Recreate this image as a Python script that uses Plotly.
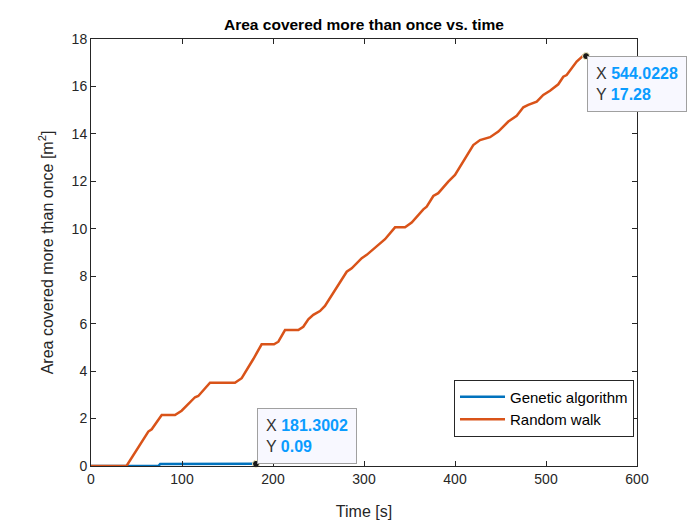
import plotly.graph_objects as go

# ---- data ----
ga_t = [0, 74, 76, 120, 181.3002]
ga_y = [0, 0, 0.08, 0.09, 0.09]

rw_t = [0, 39, 63, 66.7, 77.7, 92.3, 99.6, 107, 114.3, 117.9, 130.8, 158.2, 165.6,
        178.4, 187.5, 201.1, 205.9, 213.2, 227.8, 233.3, 238.8, 244.3, 251.6, 257.1,
        281, 286.5, 297.5, 303, 317.6, 323.1, 334.1, 345.1, 352.4, 365.2, 368.9,
        376.2, 381.6, 392.6, 400, 420.1, 427.5, 433, 438.5, 447.6, 458.6, 467.8,
        475.1, 480.5, 489.8, 497, 504.4, 513.5, 519, 522.7, 533.7, 541, 544.0228]
rw_y = [0, 0, 1.45, 1.55, 2.15, 2.15, 2.33, 2.6, 2.9, 2.95, 3.51, 3.51, 3.7,
        4.51, 5.13, 5.13, 5.24, 5.73, 5.73, 5.87, 6.18, 6.37, 6.53, 6.75,
        8.19, 8.33, 8.76, 8.9, 9.41, 9.56, 10.06, 10.06, 10.26, 10.82, 10.93,
        11.38, 11.5, 11.99, 12.27, 13.53, 13.74, 13.81, 13.86, 14.1, 14.52, 14.76,
        15.12, 15.22, 15.36, 15.64, 15.82, 16.09, 16.41, 16.48, 17.05, 17.3, 17.28]

x_ticks = [0, 100, 200, 300, 400, 500, 600]
y_ticks = [0, 2, 4, 6, 8, 10, 12, 14, 16, 18]

tips = [("181.3002", "0.09", ga_t[-1], ga_y[-1], "bottom"),
        ("544.0228", "17.28", rw_t[-1], rw_y[-1], "top")]

BLUE = "#0072BD"
ORANGE = "#D95319"
FONT = "Liberation Sans, Arial, Helvetica, sans-serif"
TXT = "#262626"

fig = go.Figure()
fig.add_trace(go.Scatter(x=ga_t, y=ga_y, mode="lines", name="Genetic algorithm",
                         line=dict(color=BLUE, width=2.5)))
fig.add_trace(go.Scatter(x=rw_t, y=rw_y, mode="lines", name="Random walk",
                         line=dict(color=ORANGE, width=2.5)))
fig.add_trace(go.Scatter(x=[t[2] for t in tips], y=[t[3] for t in tips], mode="markers",
                         showlegend=False, cliponaxis=False,
                         marker=dict(color="#1a1a1a", size=7,
                                     line=dict(color="#fffbc8", width=1))))

for xs, ys, xv, yv, anc in tips:
    fig.add_annotation(
        x=xv, y=yv, xref="x", yref="y", showarrow=False,
        xanchor="left", yanchor=anc, align="left",
        text=(f"X <b><span style='color:#0a9cff'>{xs}</span></b><br>"
              f"Y <b><span style='color:#0a9cff'>{ys}</span></b>"),
        font=dict(family=FONT, size=16, color="#333333"),
        bgcolor="#f8f8ff", bordercolor="#a0a0a0", borderwidth=1, borderpad=8,
        xshift=1)

axis_common = dict(showgrid=False, zeroline=False, showline=True, linecolor=TXT,
                   linewidth=1, mirror="ticks", ticks="inside", ticklen=5,
                   tickcolor=TXT, tickfont=dict(family=FONT, size=14, color=TXT))

# page body has an 8px margin, so the figure sits at (8, 8) in the window
fig.update_layout(
    width=700, height=525,
    paper_bgcolor="white", plot_bgcolor="white",
    margin=dict(l=83, r=71, t=31, b=67, autoexpand=False),
    title=dict(text="<b>Area covered more than once vs. time</b>",
               x=(83 + 629) / 2 / 700, xanchor="center", y=1 - 17 / 525, yanchor="middle",
               font=dict(family=FONT, size=15.5, color="black")),
    xaxis=dict(range=[0, 600], tickvals=x_ticks,
               title=dict(text="Time [s]", font=dict(family=FONT, size=16, color=TXT), standoff=20),
               **axis_common),
    yaxis=dict(range=[0, 18], tickvals=y_ticks,
               title=dict(text="Area covered more than once [m<sup>2</sup>]",
                          font=dict(family=FONT, size=16, color=TXT), standoff=14),
               **axis_common),
    legend=dict(x=0.9945, y=0.069, xanchor="right", yanchor="bottom",
                bgcolor="white", bordercolor=TXT, borderwidth=1,
                font=dict(family=FONT, size=15, color="black"),
                tracegroupgap=0, itemwidth=45),
    showlegend=True,
)

fig.write_html("out.html")
